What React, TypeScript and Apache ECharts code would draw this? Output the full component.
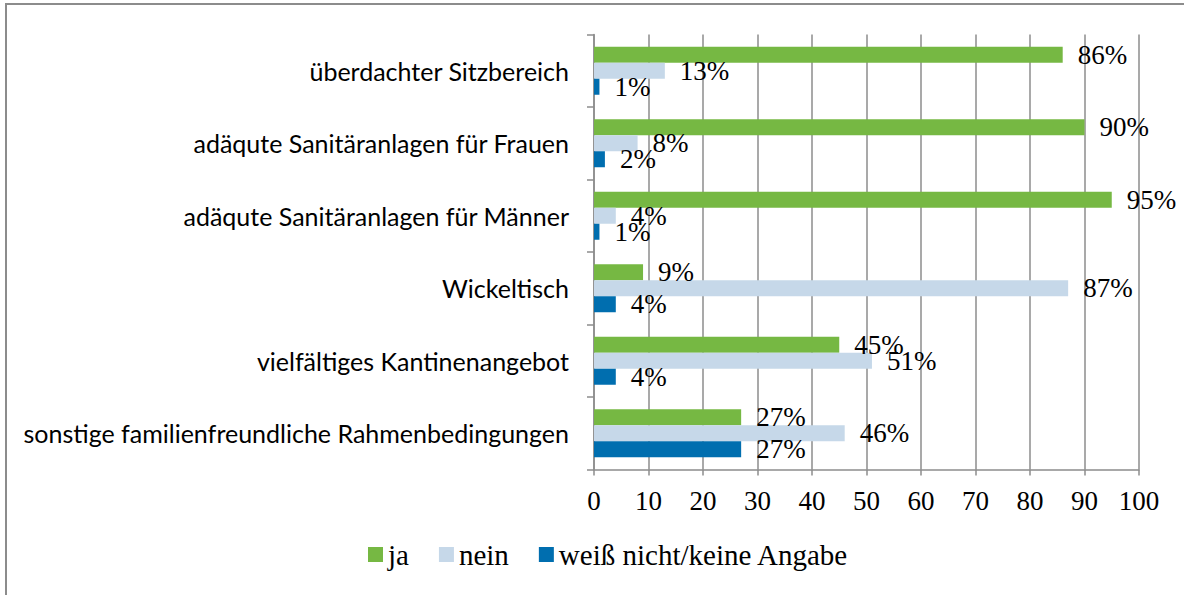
import React, { useEffect, useRef } from "react";
import * as echarts from "echarts";

const categories = [
  "überdachter Sitzbereich",
  "adäqute Sanitäranlagen für Frauen",
  "adäqute Sanitäranlagen für Männer",
  "Wickeltisch",
  "vielfältiges Kantinenangebot",
  "sonstige familienfreundliche Rahmenbedingungen",
];
const seriesNames = ["ja", "nein", "weiß nicht/keine Angabe"];
const jaValues = [86, 90, 95, 9, 45, 27];
const neinValues = [13, 8, 4, 87, 51, 46];
const unknownValues = [1, 2, 1, 4, 4, 27];
const colors = ["#76b843", "#c6d8e9", "#006eaf"];

const serif = "Liberation Serif";

export default function App() {
  const ref = useRef<HTMLDivElement>(null);
  useEffect(() => {
    if (!ref.current) return;
    const chart = echarts.init(ref.current, null, { renderer: "svg" });
    const data = [jaValues, neinValues, unknownValues];
    chart.setOption({
      animation: false,
      backgroundColor: "#ffffff",
      graphic: [
        {
          type: "rect",
          shape: { x: 6, y: 4, width: 1400, height: 800 },
          style: { fill: "none", stroke: "#8c8c8c", lineWidth: 2 },
          silent: true,
        },
      ],
      grid: { left: 594, right: 45, top: 34.5, bottom: 125.5, containLabel: false },
      legend: {
        bottom: 21,
        left: 363,
        itemWidth: 15,
        itemHeight: 15,
        itemGap: 30,
        icon: "rect",
        textStyle: { fontFamily: serif, fontSize: 29, color: "#000" },
        data: seriesNames,
      },
      xAxis: {
        type: "value",
        min: 0,
        max: 100,
        interval: 10,
        axisLine: { show: true, lineStyle: { color: "#8c8c8c", width: 1.5 } },
        axisTick: { show: true, length: 6, lineStyle: { color: "#8c8c8c", width: 1.5 } },
        splitLine: { show: true, lineStyle: { color: "#8c8c8c", width: 1.5 } },
        axisLabel: { fontFamily: serif, fontSize: 27, color: "#000", margin: 18 },
      },
      yAxis: {
        type: "category",
        inverse: true,
        data: categories,
        axisLine: { show: true, lineStyle: { color: "#8c8c8c", width: 1.5 } },
        axisTick: { show: true, length: 7, lineStyle: { color: "#8c8c8c", width: 1.5 } },
        axisLabel: { fontFamily: "Lato", fontSize: 25, color: "#000", margin: 25 },
      },
      series: seriesNames.map((name, i) => ({
        name,
        type: "bar",
        data: data[i],
        barWidth: 16,
        barGap: "0%",
        itemStyle: { color: colors[i] },
        label: {
          show: true,
          position: "right",
          distance: 15,
          formatter: "{c}%",
          fontFamily: serif,
          fontSize: 27,
          color: "#000",
        },
      })),
    });
    return () => chart.dispose();
  }, []);
  return (
    <div
      ref={ref}
      style={{ position: "fixed", left: 0, top: 0, width: 1184, height: 595 }}
    />
  );
}
